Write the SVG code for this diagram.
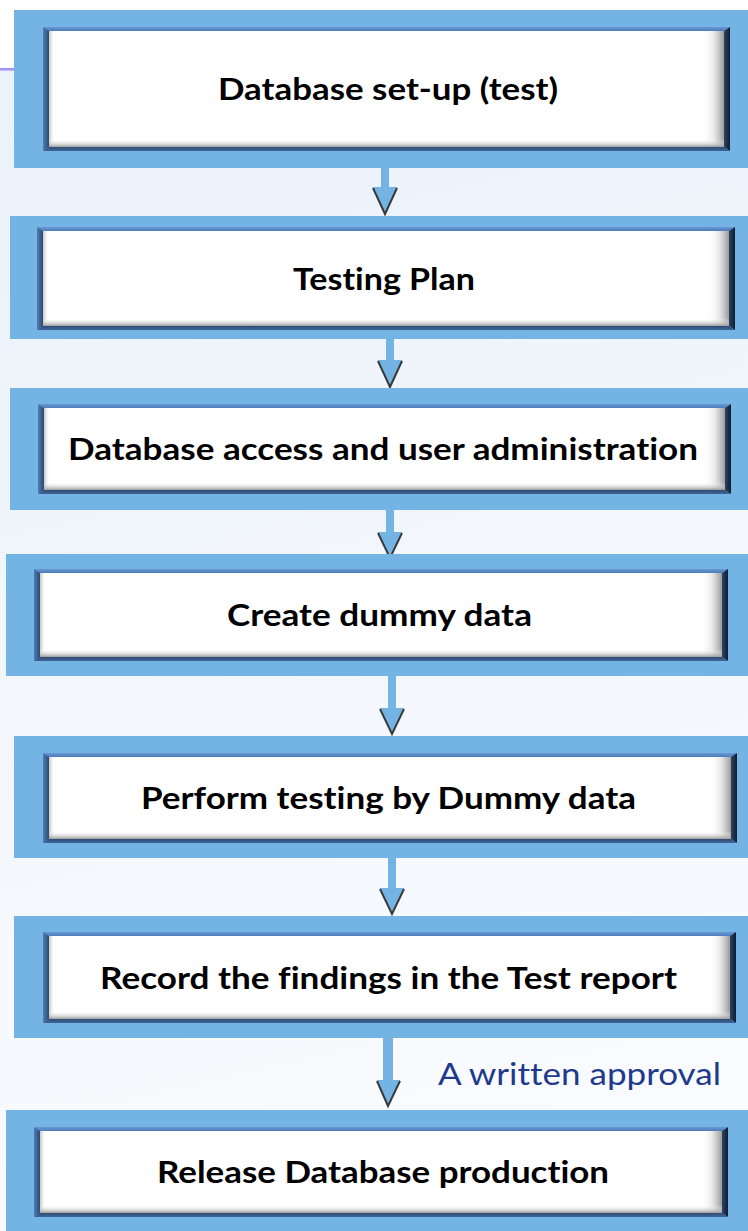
<svg xmlns="http://www.w3.org/2000/svg" width="748" height="1231" viewBox="0 0 748 1231">
  <defs>
    <linearGradient id="bg" x1="0" y1="0" x2="0.15" y2="1">
      <stop offset="0" stop-color="#ebf2fa"/>
      <stop offset="1" stop-color="#f9fbfe"/>
    </linearGradient>
    <linearGradient id="purpleLine" x1="0" y1="0" x2="0" y2="1">
      <stop offset="0" stop-color="#8f7ff2"/>
      <stop offset="1" stop-color="#c9c0f7"/>
    </linearGradient>
    <!-- bevel faces of the framed boxes -->
    <linearGradient id="edgeLeft" x1="0" y1="0" x2="1" y2="0">
      <stop offset="0" stop-color="#4f7db3"/>
      <stop offset="1" stop-color="#2c4a72"/>
    </linearGradient>
    <linearGradient id="edgeRight" x1="0" y1="0" x2="1" y2="0">
      <stop offset="0" stop-color="#2a4568"/>
      <stop offset="1" stop-color="#111c2c"/>
    </linearGradient>
    <linearGradient id="edgeTop" x1="0" y1="0" x2="0" y2="1">
      <stop offset="0" stop-color="#6a98d2"/>
      <stop offset="1" stop-color="#4c7cbc"/>
    </linearGradient>
    <linearGradient id="edgeBottom" x1="0" y1="0" x2="0" y2="1">
      <stop offset="0" stop-color="#2e4d76"/>
      <stop offset="1" stop-color="#3f6596"/>
    </linearGradient>
    <!-- soft shading inside the white face -->
    <linearGradient id="shadeRight" x1="0" y1="0" x2="1" y2="0">
      <stop offset="0" stop-color="#ffffff" stop-opacity="0"/>
      <stop offset="0.55" stop-color="#e2e2e2" stop-opacity="0.8"/>
      <stop offset="1" stop-color="#9a9a9a"/>
    </linearGradient>
    <linearGradient id="shadeBottom" x1="0" y1="0" x2="0" y2="1">
      <stop offset="0" stop-color="#ffffff" stop-opacity="0"/>
      <stop offset="1" stop-color="#9c9c9c"/>
    </linearGradient>
    <linearGradient id="shadeLeft" x1="0" y1="0" x2="1" y2="0">
      <stop offset="0" stop-color="#c4c4c4"/>
      <stop offset="1" stop-color="#ffffff" stop-opacity="0"/>
    </linearGradient>
    <style>
      .outer { fill: #74b4e4; }
      .face { fill: #ffffff; }
      .label { font-family: Lato, "Liberation Sans", sans-serif; font-weight: bold; font-size: 30.5px; fill: #000000; font-variant-ligatures: none; }
      .note { font-family: Lato, "Liberation Sans", sans-serif; font-size: 30.5px; fill: #1f3a8c; font-variant-ligatures: none; }
      .shaft { fill: #74b4e4; }
      .head { fill: #74b4e4; }
      .headEdge { fill: none; stroke: #3a3a3a; stroke-width: 2; stroke-linejoin: miter; }
    </style>
  </defs>

  <!-- page background -->
  <rect x="0" y="0" width="748" height="1231" fill="#ffffff"/>
  <rect x="0" y="70" width="748" height="1161" fill="url(#bg)"/>
  <rect x="0" y="68" width="748" height="3" fill="url(#purpleLine)"/>

  <!-- connectors -->
  <g id="connectors">
    <g id="arrow-1">
      <rect class="shaft" x="381" y="168" width="8" height="20"/>
      <path class="head" d="M373,187 L397,187 L385,214 Z"/>
      <path class="headEdge" d="M373,188 L385,214 L397,188"/>
    </g>
    <g id="arrow-2">
      <rect class="shaft" x="386" y="339" width="8" height="22"/>
      <path class="head" d="M378,360 L402,360 L390,387 Z"/>
      <path class="headEdge" d="M378,361 L390,387 L402,361"/>
    </g>
    <g id="arrow-3">
      <rect class="shaft" x="386" y="510" width="8" height="23"/>
      <path class="head" d="M378,532 L402,532 L390,558 Z"/>
      <path class="headEdge" d="M378,533 L390,558 L402,533"/>
    </g>
    <g id="arrow-4">
      <rect class="shaft" x="388" y="676" width="8" height="33"/>
      <path class="head" d="M380,708 L404,708 L392,734 Z"/>
      <path class="headEdge" d="M380,709 L392,734 L404,709"/>
    </g>
    <g id="arrow-5">
      <rect class="shaft" x="388" y="858" width="8" height="31"/>
      <path class="head" d="M380,888 L404,888 L392,914 Z"/>
      <path class="headEdge" d="M380,889 L392,914 L404,889"/>
    </g>
    <g id="arrow-6">
      <rect class="shaft" x="383" y="1038" width="10" height="43"/>
      <path class="head" d="M377,1080 L400,1080 L388,1106 Z"/>
      <path class="headEdge" d="M377,1081 L388,1106 L400,1081"/>
    </g>
    <text class="note" x="438" y="1085" textLength="283" lengthAdjust="spacingAndGlyphs">A written approval</text>
  </g>

  <!-- box 1 -->
  <g id="node-1">
    <rect class="outer" x="14" y="10" width="734" height="158"/>
    <path fill="url(#edgeTop)" d="M43,27 L730,27 L724,31 L49,31 Z"/>
    <path fill="url(#edgeLeft)" d="M43,27 L49,31 L49,147 L43,151 Z"/>
    <path fill="url(#edgeRight)" d="M730,27 L730,151 L724,147 L724,31 Z"/>
    <path fill="url(#edgeBottom)" d="M43,151 L49,147 L724,147 L730,151 Z"/>
    <rect class="face" x="49" y="31" width="675" height="116"/>
    <rect fill="url(#shadeLeft)" x="49" y="31" width="6" height="116"/>
    <rect fill="url(#shadeRight)" x="702" y="31" width="22" height="116"/>
    <rect fill="url(#shadeBottom)" x="49" y="139" width="675" height="8"/>
    <text class="label" x="218" y="100" textLength="340" lengthAdjust="spacingAndGlyphs">Database set-up (test)</text>
  </g>

  <!-- box 2 -->
  <g id="node-2">
    <rect class="outer" x="10" y="216" width="738" height="123"/>
    <path fill="url(#edgeTop)" d="M37,227 L735,227 L729,231 L43,231 Z"/>
    <path fill="url(#edgeLeft)" d="M37,227 L43,231 L43,326 L37,330 Z"/>
    <path fill="url(#edgeRight)" d="M735,227 L735,330 L729,326 L729,231 Z"/>
    <path fill="url(#edgeBottom)" d="M37,330 L43,326 L729,326 L735,330 Z"/>
    <rect class="face" x="43" y="231" width="686" height="95"/>
    <rect fill="url(#shadeLeft)" x="43" y="231" width="6" height="95"/>
    <rect fill="url(#shadeRight)" x="707" y="231" width="22" height="95"/>
    <rect fill="url(#shadeBottom)" x="43" y="318" width="686" height="8"/>
    <text class="label" x="293" y="290" textLength="182" lengthAdjust="spacingAndGlyphs">Testing Plan</text>
  </g>

  <!-- box 3 -->
  <g id="node-3">
    <rect class="outer" x="10" y="388" width="738" height="122"/>
    <path fill="url(#edgeTop)" d="M38,404 L731,404 L725,408 L44,408 Z"/>
    <path fill="url(#edgeLeft)" d="M38,404 L44,408 L44,490 L38,494 Z"/>
    <path fill="url(#edgeRight)" d="M731,404 L731,494 L725,490 L725,408 Z"/>
    <path fill="url(#edgeBottom)" d="M38,494 L44,490 L725,490 L731,494 Z"/>
    <rect class="face" x="44" y="408" width="681" height="82"/>
    <rect fill="url(#shadeLeft)" x="44" y="408" width="6" height="82"/>
    <rect fill="url(#shadeRight)" x="703" y="408" width="22" height="82"/>
    <rect fill="url(#shadeBottom)" x="44" y="482" width="681" height="8"/>
    <text class="label" x="68" y="460" textLength="630" lengthAdjust="spacingAndGlyphs">Database access and user administration</text>
  </g>

  <!-- box 4 -->
  <g id="node-4">
    <rect class="outer" x="6" y="554" width="742" height="122"/>
    <path fill="url(#edgeTop)" d="M34,569 L728,569 L722,573 L40,573 Z"/>
    <path fill="url(#edgeLeft)" d="M34,569 L40,573 L40,657 L34,661 Z"/>
    <path fill="url(#edgeRight)" d="M728,569 L728,661 L722,657 L722,573 Z"/>
    <path fill="url(#edgeBottom)" d="M34,661 L40,657 L722,657 L728,661 Z"/>
    <rect class="face" x="40" y="573" width="682" height="84"/>
    <rect fill="url(#shadeLeft)" x="40" y="573" width="6" height="84"/>
    <rect fill="url(#shadeRight)" x="700" y="573" width="22" height="84"/>
    <rect fill="url(#shadeBottom)" x="40" y="649" width="682" height="8"/>
    <text class="label" x="227" y="626" textLength="305" lengthAdjust="spacingAndGlyphs">Create dummy data</text>
  </g>

  <!-- box 5 -->
  <g id="node-5">
    <rect class="outer" x="14" y="736" width="734" height="122"/>
    <path fill="url(#edgeTop)" d="M43,753 L737,753 L731,757 L49,757 Z"/>
    <path fill="url(#edgeLeft)" d="M43,753 L49,757 L49,839 L43,843 Z"/>
    <path fill="url(#edgeRight)" d="M737,753 L737,843 L731,839 L731,757 Z"/>
    <path fill="url(#edgeBottom)" d="M43,843 L49,839 L731,839 L737,843 Z"/>
    <rect class="face" x="49" y="757" width="682" height="82"/>
    <rect fill="url(#shadeLeft)" x="49" y="757" width="6" height="82"/>
    <rect fill="url(#shadeRight)" x="709" y="757" width="22" height="82"/>
    <rect fill="url(#shadeBottom)" x="49" y="831" width="682" height="8"/>
    <text class="label" x="141" y="809" textLength="495" lengthAdjust="spacingAndGlyphs">Perform testing by Dummy data</text>
  </g>

  <!-- box 6 -->
  <g id="node-6">
    <rect class="outer" x="14" y="916" width="734" height="122"/>
    <path fill="url(#edgeTop)" d="M43,932 L736,932 L730,936 L49,936 Z"/>
    <path fill="url(#edgeLeft)" d="M43,932 L49,936 L49,1019 L43,1023 Z"/>
    <path fill="url(#edgeRight)" d="M736,932 L736,1023 L730,1019 L730,936 Z"/>
    <path fill="url(#edgeBottom)" d="M43,1023 L49,1019 L730,1019 L736,1023 Z"/>
    <rect class="face" x="49" y="936" width="681" height="83"/>
    <rect fill="url(#shadeLeft)" x="49" y="936" width="6" height="83"/>
    <rect fill="url(#shadeRight)" x="708" y="936" width="22" height="83"/>
    <rect fill="url(#shadeBottom)" x="49" y="1011" width="681" height="8"/>
    <text class="label" x="100" y="989" textLength="577" lengthAdjust="spacingAndGlyphs">Record the findings in the Test report</text>
  </g>

  <!-- box 7 -->
  <g id="node-7">
    <rect class="outer" x="6" y="1110" width="742" height="121"/>
    <path fill="url(#edgeTop)" d="M34,1127 L728,1127 L722,1131 L40,1131 Z"/>
    <path fill="url(#edgeLeft)" d="M34,1127 L40,1131 L40,1213 L34,1217 Z"/>
    <path fill="url(#edgeRight)" d="M728,1127 L728,1217 L722,1213 L722,1131 Z"/>
    <path fill="url(#edgeBottom)" d="M34,1217 L40,1213 L722,1213 L728,1217 Z"/>
    <rect class="face" x="40" y="1131" width="682" height="82"/>
    <rect fill="url(#shadeLeft)" x="40" y="1131" width="6" height="82"/>
    <rect fill="url(#shadeRight)" x="700" y="1131" width="22" height="82"/>
    <rect fill="url(#shadeBottom)" x="40" y="1205" width="682" height="8"/>
    <text class="label" x="157" y="1183" textLength="452" lengthAdjust="spacingAndGlyphs">Release Database production</text>
  </g>
</svg>
